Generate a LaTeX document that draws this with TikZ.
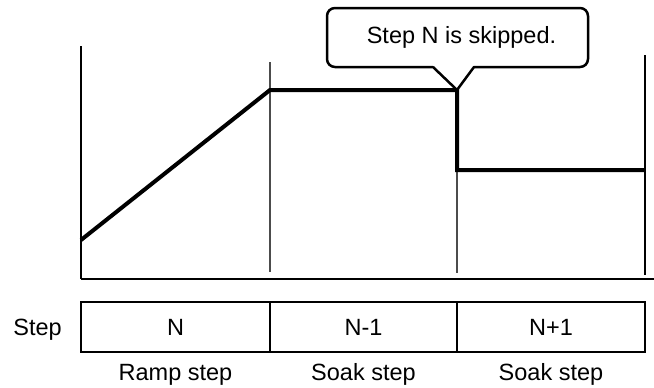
\documentclass[tikz,border=0pt]{standalone}
\usepackage{fontspec}
\setmainfont{Liberation Sans}
\begin{document}
\begin{tikzpicture}[x=1pt,y=-1pt,
  txt/.style={font=\fontsize{23.5}{28}\selectfont, inner sep=0pt, anchor=base},
  gridline/.style={line width=1.5pt, black!70},
  axisline/.style={line width=2.5pt, black},
  profile/.style={line width=4pt, black, line join=miter},
  tableline/.style={line width=2.2pt, black},
  calloutline/.style={line width=2.5pt, black, line join=round}]
\useasboundingbox (0,0) rectangle (654,388);
% coordinates
\coordinate (o) at (81,279);
\coordinate (ytop) at (81,46);
\coordinate (xend) at (654,279);
\coordinate (g1t) at (270,62);
\coordinate (g1b) at (270,272);
\coordinate (g2b) at (457,273);
\coordinate (g3t) at (645,55);
\coordinate (g3b) at (645,275);
\coordinate (p0) at (81,240);
\coordinate (p1) at (270,90);
\coordinate (p2) at (457,90);
\coordinate (p3) at (457,170);
\coordinate (p4) at (645,170);
% grid lines
\draw[gridline] (g1t) -- (g1b);
\draw[gridline] (p3) -- (g2b);
\draw[line width=1.5pt] (ytop) -- (o);
\draw[line width=2.8pt] (g3t) -- (g3b);
\draw[axisline] (o) -- (xend);
% profile
\draw[profile] (p0) -- (p1) -- (p2) -- (p3) -- (p4);
% callout
\node[txt] (callout) at (461.5,43) {Step N is skipped.};
\coordinate (cl) at (433,67);
\coordinate (cr) at (474,67);
\draw[calloutline] (cl) -- (p2) -- (cr)
  [rounded corners=8pt] -- (588,67) -- (588,8) -- (327,8) -- (327,67) -- (cl);
% table
\coordinate (t0) at (81,302);
\coordinate (t1) at (645,352);
\draw[tableline] (t0) rectangle (t1);
\draw[tableline] (270,302) -- (270,352);
\draw[tableline] (457,302) -- (457,352);
\node[txt] (steplbl) at (37.5,335) {Step};
\node[txt] (cN) at (175.5,335) {N};
\node[txt] (cN1) at (363.5,335) {N-1};
\node[txt] (cN2) at (551,335) {N+1};
\node[txt] (l1) at (175.5,380) {Ramp step};
\node[txt] (l2) at (363.5,380) {Soak step};
\node[txt] (l3) at (551,380) {Soak step};
\end{tikzpicture}
\end{document}
